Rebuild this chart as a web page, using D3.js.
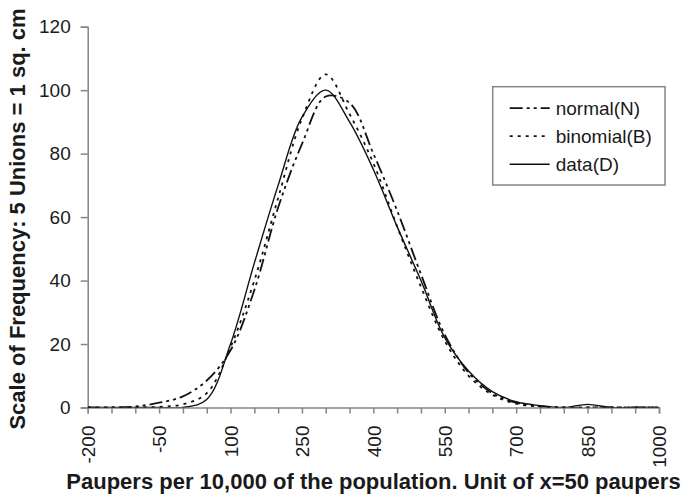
<!DOCTYPE html>
<html>
<head>
<meta charset="utf-8">
<script src="https://cdn.jsdelivr.net/npm/d3@7"></script>
<style>
  body { margin: 0; background: #fff; }
  svg { display: block; font-family: "Liberation Sans", Arial, sans-serif; }
</style>
</head>
<body>
<div id="chart"></div>
<script>
const width = 687;
const height = 497;

// categories on the x axis (paupers per 10,000)
const xCategories = [-200, -150, -100, -50, 0, 50, 100, 150, 200, 250, 300, 350, 400,
  450, 500, 550, 600, 650, 700, 750, 800, 850, 900, 950, 1000];
const xTickLabels = [-200, -50, 100, 250, 400, 550, 700, 850, 1000];
const yTicks = [0, 20, 40, 60, 80, 100, 120];

// series
const normalValues = [0, 0, 0.3, 1.5, 3.5, 8.5, 18, 37, 63, 83, 98, 96, 80,
  62, 42, 23, 11, 4.5, 1.5, 0.4, 0, 0, 0, 0, 0];
const binomialValues = [0, 0, 0, 0.2, 1, 4.5, 19, 40, 66, 91, 105, 92.5, 77,
  57, 38, 21, 10, 4, 1.2, 0.3, 0, 0, 0, 0, 0];
const dataValues = [0, 0, 0, 0, 0, 2.5, 20, 45.5, 70, 91.5, 100, 90, 75,
  57, 40, 22, 11.5, 5, 1.8, 0.6, 0, 1, 0, 0, 0];

const seriesNames = ["normal(N)", "binomial(B)", "data(D)"];
const dashes = ["13,4,3,4,3,4", "3,5", null];

const series = seriesNames.map((name, i) => ({
  name,
  dash: dashes[i],
  values: [normalValues, binomialValues, dataValues][i].map((v, j) => ({ x: xCategories[j], y: v }))
}));

const x = d3.scaleLinear().domain([-200, 1000]).range([87.7, 659]);
const y = d3.scaleLinear().domain([0, 120]).range([407.5, 26.7]);

const svg = d3.select("#chart").append("svg")
  .attr("width", width)
  .attr("height", height);

const axisColor = "#858585";

// clip so smoothed curves don't dip under the axis
svg.append("clipPath").attr("id", "plot-clip")
  .append("rect")
  .attr("x", x.range()[0]).attr("y", 0)
  .attr("width", x.range()[1] - x.range()[0])
  .attr("height", y(0));

// y axis
const yAxis = svg.append("g")
  .attr("transform", `translate(${x(-200)},0)`)
  .call(d3.axisLeft(y).tickValues(yTicks).tickSize(7).tickPadding(10));
yAxis.select(".domain").attr("stroke", axisColor).attr("stroke-width", 1.5);
yAxis.selectAll(".tick line").attr("stroke", axisColor).attr("stroke-width", 1.5);
yAxis.selectAll("text")
  .attr("font-size", 19)
  .attr("font-family", "Liberation Sans, Arial, sans-serif")
  .attr("fill", "#1a1a1a");

// x axis
const xAxis = svg.append("g")
  .attr("transform", `translate(0,${y(0)})`)
  .call(d3.axisBottom(x).tickValues(xCategories).tickSize(6)
    .tickFormat(d => xTickLabels.includes(d) ? d : ""));
xAxis.select(".domain").attr("stroke", axisColor).attr("stroke-width", 1.5);
xAxis.selectAll(".tick line").attr("stroke", axisColor).attr("stroke-width", 1.5);
xAxis.selectAll("text")
  .attr("font-size", 19)
  .attr("font-family", "Liberation Sans, Arial, sans-serif")
  .attr("fill", "#1a1a1a")
  .attr("transform", "rotate(-90)")
  .attr("text-anchor", "end")
  .attr("x", -18)
  .attr("y", 0)
  .attr("dy", "0.35em");

// curves
const line = d3.line()
  .x(d => x(d.x))
  .y(d => y(d.y))
  .curve(d3.curveCatmullRom.alpha(0.5));

svg.append("g")
  .attr("clip-path", "url(#plot-clip)")
  .selectAll("path")
  .data(series)
  .join("path")
  .attr("fill", "none")
  .attr("stroke", "#111")
  .attr("stroke-width", d => d.dash ? 1.8 : 1.4)
  .attr("stroke-dasharray", d => d.dash)
  .attr("d", d => line(d.values));

// legend
const legend = svg.append("g").attr("transform", "translate(492.7,86.7)");
legend.append("rect")
  .attr("width", 172.3)
  .attr("height", 98.3)
  .attr("fill", "#fff")
  .attr("stroke", axisColor)
  .attr("stroke-width", 1.5);

const item = legend.selectAll("g.item")
  .data(series)
  .join("g")
  .attr("class", "item")
  .attr("transform", (d, i) => `translate(0,${21.5 + i * 28})`);

item.append("line")
  .attr("x1", 17).attr("x2", 57)
  .attr("stroke", "#111")
  .attr("stroke-width", d => d.dash ? 1.8 : 1.4)
  .attr("stroke-dasharray", d => d.dash);

item.append("text")
  .attr("x", 63)
  .attr("dy", "0.35em")
  .attr("font-size", 19)
  .attr("fill", "#1a1a1a")
  .text(d => d.name);

// axis titles
svg.append("text")
  .attr("transform", `translate(25,219) rotate(-90)`)
  .attr("text-anchor", "middle")
  .attr("font-size", 22)
  .attr("font-weight", "bold")
  .attr("fill", "#1a1a1a")
  .text("Scale of Frequency: 5 Unions = 1 sq. cm");

svg.append("text")
  .attr("x", 373.5)
  .attr("y", 489)
  .attr("text-anchor", "middle")
  .attr("font-size", 22)
  .attr("font-weight", "bold")
  .attr("fill", "#1a1a1a")
  .text("Paupers per 10,000 of the population. Unit of x=50 paupers");
</script>
</body>
</html>
